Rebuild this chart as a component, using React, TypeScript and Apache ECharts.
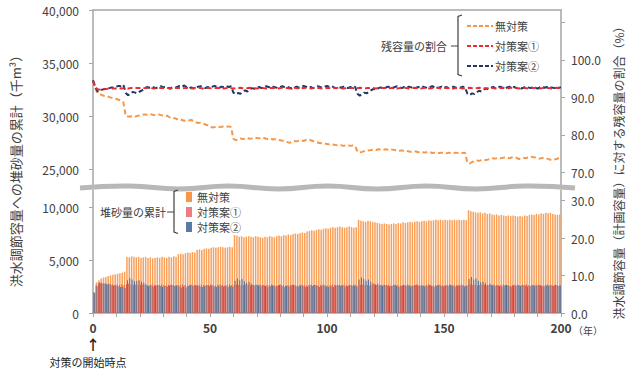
import React, { useEffect, useRef } from "react";
import * as echarts from "echarts";

// ---- categories / tick labels ----
const barYears = Array.from({ length: 200 }, (_, i) => String(i + 1));
const leftTopTicks = [25000, 30000, 35000, 40000];
const leftBottomTicks = [0, 5000, 10000];
const rightTopTicks = [70, 80, 90, 100, 110];
const rightTopLabels = [70, 80, 90, 100];
const rightBottomTicks = [0, 10, 20, 30];

// ---- 残容量の割合 (%) : years 0..200 ----
const lineNoMeasure = [
  94.5, 92.3, 91.2, 90.9, 90.6, 90.4, 90.3, 90.1, 89.9, 89.8,
  89.6, 89.4, 89.1, 88.7, 85.1, 84.9, 85.0, 84.8, 84.9, 85.1,
  85.2, 85.4, 85.5, 85.4, 85.6, 85.5, 85.3, 85.4, 85.5, 85.3,
  85.2, 85.3, 85.0, 84.6, 84.4, 84.5, 84.2, 84.3, 84.0, 83.8,
  84.0, 83.9, 84.0, 83.7, 83.4, 83.2, 83.3, 83.1, 82.8, 82.6,
  82.3, 82.0, 82.1, 82.2, 82.1, 82.2, 82.3, 82.2, 82.3, 82.1,
  79.0, 78.6, 78.8, 79.1, 78.9, 79.0, 79.2, 79.0, 79.1, 79.3,
  79.2, 79.1, 79.3, 79.2, 79.0, 78.9, 79.0, 78.8, 78.9, 78.7,
  78.6, 78.5, 78.3, 78.1, 77.9, 78.2, 78.4, 78.3, 78.5, 78.6,
  78.4, 78.7, 78.8, 78.6, 78.4, 78.2, 78.0, 77.8, 77.9, 77.7,
  77.6, 77.5, 77.6, 77.4, 77.3, 77.2, 77.3, 77.1, 77.2, 77.3,
  77.1, 77.2, 77.1, 75.6, 75.3, 75.5, 75.7, 75.8, 75.9, 76.0,
  76.1, 76.0, 76.2, 76.1, 76.0, 76.2, 76.1, 76.3, 76.1, 76.0,
  75.9, 75.8, 75.9, 75.7, 75.8, 75.6, 75.5, 75.7, 75.6, 75.4,
  75.5, 75.4, 75.3, 75.5, 75.4, 75.2, 75.3, 75.1, 75.2, 75.3,
  75.2, 75.1, 75.3, 75.2, 75.1, 75.3, 75.2, 75.1, 75.2, 75.3,
  72.6, 72.4, 72.8, 73.0, 73.2, 73.1, 73.3, 73.4, 73.3, 73.5,
  73.6, 73.8, 73.7, 73.9, 73.8, 73.9, 74.0, 73.9, 73.8, 74.0,
  74.1, 73.9, 73.6, 73.7, 73.9, 73.8, 74.0, 74.2, 74.1, 74.0,
  73.8, 73.7, 73.9, 73.8, 73.7, 73.5, 73.3, 73.4, 73.6, 73.8,
  73.9,
];
const linePlan1 = [
  94.4, 92.6, 92.2, 92.1, 92.2, 92.2, 92.3, 92.3, 92.4, 92.4,
  92.4, 92.5, 92.4, 92.5, 92.5, 92.4, 92.5, 92.5, 92.6, 92.5,
  92.5, 92.6, 92.5, 92.5, 92.6, 92.5, 92.4, 92.5, 92.6, 92.5,
  92.5, 92.6, 92.5, 92.4, 92.5, 92.6, 92.5, 92.5, 92.4, 92.5,
  92.6, 92.5, 92.4, 92.5, 92.6, 92.5, 92.5, 92.4, 92.5, 92.6,
  92.5, 92.4, 92.5, 92.6, 92.5, 92.5, 92.4, 92.5, 92.6, 92.5,
  92.4, 92.5, 92.5, 92.6, 92.5, 92.4, 92.5, 92.6, 92.5, 92.5,
  92.4, 92.5, 92.6, 92.5, 92.4, 92.5, 92.5, 92.6, 92.5, 92.4,
  92.5, 92.6, 92.5, 92.5, 92.4, 92.5, 92.6, 92.5, 92.4, 92.5,
  92.5, 92.6, 92.5, 92.4, 92.5, 92.6, 92.5, 92.5, 92.4, 92.5,
  92.6, 92.5, 92.4, 92.5, 92.5, 92.6, 92.5, 92.4, 92.5, 92.6,
  92.5, 92.5, 92.4, 92.5, 92.6, 92.5, 92.4, 92.5, 92.5, 92.6,
  92.5, 92.4, 92.5, 92.6, 92.5, 92.5, 92.4, 92.5, 92.6, 92.5,
  92.4, 92.5, 92.5, 92.6, 92.5, 92.4, 92.5, 92.6, 92.5, 92.5,
  92.4, 92.5, 92.6, 92.5, 92.4, 92.5, 92.5, 92.6, 92.5, 92.4,
  92.5, 92.6, 92.5, 92.5, 92.4, 92.5, 92.6, 92.5, 92.4, 92.5,
  92.5, 92.6, 92.5, 92.4, 92.5, 92.6, 92.5, 92.5, 92.4, 92.5,
  92.6, 92.5, 92.4, 92.5, 92.5, 92.6, 92.5, 92.4, 92.5, 92.6,
  92.5, 92.5, 92.4, 92.5, 92.6, 92.5, 92.4, 92.5, 92.5, 92.6,
  92.5, 92.4, 92.5, 92.6, 92.5, 92.5, 92.4, 92.5, 92.6, 92.5,
  92.4,
];
const linePlan2 = [
  94.6, 92.9, 91.6, 91.9, 92.1, 92.3, 92.2, 92.5, 92.7, 92.6,
  92.9, 93.1, 93.0, 93.4, 91.2, 90.6, 91.0, 91.5, 91.3, 91.1,
  91.6, 91.9, 92.4, 92.8, 92.6, 92.9, 92.7, 92.5, 92.8, 93.0,
  92.7, 92.9, 92.6, 92.4, 92.7, 92.5, 92.8, 93.1, 92.9, 93.2,
  92.8, 92.5, 92.7, 92.4, 92.6, 92.9, 93.0, 92.7, 92.5, 92.8,
  92.6, 92.9, 93.1, 92.8, 92.6, 92.9, 92.7, 93.0, 92.8, 93.0,
  91.3, 90.8, 91.2, 91.0, 91.5, 91.9, 91.6, 92.2, 92.5, 92.3,
  92.6, 92.8, 92.5, 92.7, 93.0, 92.8, 92.6, 92.9, 92.7, 92.5,
  92.8, 93.0, 92.7, 92.9, 92.6, 92.4, 92.7, 92.9, 92.6, 92.8,
  93.1, 92.9, 92.6, 92.8, 92.5, 92.7, 93.0, 92.8, 92.6, 92.9,
  93.1, 92.8, 93.0, 92.7, 92.5, 92.8, 92.6, 92.9, 92.7, 92.5,
  92.8, 92.6, 92.9, 91.0, 90.5, 90.9, 91.3, 91.1, 91.6, 92.0,
  92.3, 92.1, 92.5, 92.7, 92.4, 92.6, 92.9, 92.7, 92.5, 92.8,
  93.0, 92.7, 92.5, 92.8, 92.6, 92.9, 92.7, 92.4, 92.6, 92.8,
  92.6, 92.9, 92.7, 92.5, 92.8, 93.0, 92.7, 92.5, 92.7, 92.9,
  92.6, 92.8, 92.5, 92.7, 92.9, 92.6, 92.8, 92.6, 92.9, 92.7,
  91.0, 90.6, 91.1, 90.9, 91.4, 91.8, 91.6, 92.1, 92.4, 92.2,
  92.6, 92.8, 92.5, 92.7, 92.9, 92.6, 92.4, 92.7, 92.9, 92.6,
  92.8, 92.5, 92.7, 92.4, 92.6, 92.9, 92.7, 92.5, 92.8, 92.6,
  92.4, 92.7, 92.9, 92.6, 92.8, 92.5, 92.7, 92.5, 92.8, 92.6,
  92.7,
];

// ---- 堆砂量の累計 (千m3) : years 1..200 ----
const barNoMeasure = [
  1900, 2900, 3100, 3250, 3350, 3400, 3500, 3550, 3600, 3650,
  3700, 3750, 3800, 3900, 5300, 5250, 5350, 5300, 5250, 5300,
  5200, 5250, 5300, 5200, 5250, 5150, 5200, 5250, 5200, 5300,
  5250, 5200, 5300, 5250, 5350, 5300, 5550, 5600, 5550, 5650,
  5700, 5650, 5750, 5700, 5950, 6000, 5950, 6050, 6100, 6050,
  6150, 6200, 6150, 6200, 6250, 6200, 6150, 6200, 6250, 6200,
  7350, 7300, 7200, 7250, 7150, 7200, 7250, 7200, 7150, 7250,
  7200, 7150, 7100, 7200, 7150, 7250, 7200, 7150, 7250, 7300,
  7250, 7350, 7300, 7400, 7350, 7450, 7500, 7450, 7550, 7600,
  7550, 7700, 7750, 7800, 7750, 7850, 7900, 7850, 7950, 8000,
  7950, 8050, 8100, 8050, 8100, 8150, 8100, 8050, 8100, 8150,
  8100, 8050, 8100, 8800, 8700, 8650, 8600, 8700, 8650, 8600,
  8550, 8500, 8450, 8400, 8450, 8400, 8350, 8400, 8450, 8400,
  8500, 8450, 8550, 8500, 8550, 8600, 8550, 8600, 8650, 8600,
  8650, 8700, 8650, 8750, 8700, 8750, 8800, 8750, 8800, 8750,
  8800, 8750, 8800, 8750, 8800, 8750, 8800, 8750, 8800, 8750,
  9700, 9600, 9550, 9500, 9450, 9500, 9400, 9450, 9350, 9400,
  9300, 9250, 9300, 9200, 9250, 9200, 9150, 9200, 9150, 9200,
  9150, 9100, 9150, 9100, 9200, 9150, 9250, 9300, 9250, 9350,
  9300, 9400, 9350, 9450, 9400, 9450, 9350, 9300, 9250, 9300,
];
const barPlan1 = [
  1950, 2600, 2750, 2800, 2750, 2750, 2700, 2750, 2700, 2650,
  2700, 2650, 2700, 2650, 2700, 2750, 2700, 2650, 2700, 2650,
  2650, 2700, 2650, 2600, 2650, 2700, 2650, 2600, 2650, 2700,
  2650, 2600, 2650, 2700, 2650, 2600, 2650, 2650, 2700, 2650,
  2600, 2650, 2700, 2650, 2600, 2650, 2700, 2650, 2600, 2650,
  2700, 2650, 2600, 2650, 2700, 2650, 2600, 2650, 2700, 2650,
  2650, 2700, 2650, 2600, 2650, 2700, 2650, 2600, 2650, 2600,
  2650, 2700, 2650, 2600, 2650, 2650, 2700, 2650, 2600, 2650,
  2700, 2650, 2600, 2650, 2650, 2700, 2650, 2600, 2650, 2700,
  2650, 2600, 2650, 2700, 2650, 2650, 2600, 2650, 2700, 2650,
  2600, 2650, 2700, 2650, 2600, 2650, 2650, 2700, 2650, 2600,
  2650, 2700, 2650, 2600, 2650, 2700, 2650, 2650, 2600, 2650,
  2700, 2650, 2600, 2650, 2700, 2650, 2650, 2600, 2650, 2700,
  2650, 2600, 2650, 2650, 2700, 2650, 2600, 2650, 2700, 2650,
  2650, 2600, 2650, 2700, 2650, 2600, 2650, 2650, 2700, 2650,
  2600, 2650, 2700, 2650, 2650, 2600, 2650, 2700, 2650, 2600,
  2650, 2700, 2650, 2650, 2600, 2650, 2700, 2650, 2600, 2650,
  2650, 2700, 2650, 2600, 2650, 2700, 2650, 2650, 2600, 2650,
  2700, 2650, 2600, 2650, 2650, 2700, 2650, 2600, 2650, 2700,
  2650, 2650, 2600, 2650, 2700, 2650, 2600, 2650, 2650, 2600,
];
const barPlan2 = [
  1900, 2550, 2900, 2850, 2800, 2750, 2750, 2650, 2600, 2600,
  2500, 2450, 2450, 2350, 3100, 3300, 3150, 3000, 3050, 3100,
  2950, 2850, 2700, 2550, 2600, 2500, 2600, 2650, 2550, 2450,
  2550, 2500, 2600, 2650, 2550, 2600, 2500, 2400, 2500, 2400,
  2550, 2650, 2550, 2650, 2600, 2500, 2450, 2550, 2650, 2550,
  2600, 2500, 2450, 2550, 2600, 2500, 2550, 2450, 2550, 2450,
  3050, 3250, 3100, 3200, 3000, 2850, 2950, 2750, 2650, 2700,
  2600, 2550, 2650, 2550, 2450, 2550, 2600, 2500, 2550, 2650,
  2550, 2450, 2550, 2500, 2600, 2650, 2550, 2500, 2600, 2550,
  2450, 2500, 2600, 2550, 2650, 2600, 2450, 2550, 2600, 2500,
  2450, 2550, 2450, 2600, 2650, 2550, 2600, 2500, 2550, 2650,
  2550, 2600, 2500, 3150, 3350, 3200, 3050, 3150, 2950, 2800,
  2700, 2750, 2650, 2550, 2650, 2600, 2500, 2550, 2650, 2550,
  2450, 2550, 2650, 2550, 2600, 2500, 2550, 2650, 2600, 2550,
  2600, 2500, 2550, 2650, 2550, 2450, 2550, 2650, 2550, 2500,
  2600, 2550, 2650, 2550, 2500, 2600, 2550, 2600, 2500, 2550,
  3200, 3400, 3150, 3250, 3050, 2900, 2950, 2800, 2650, 2750,
  2600, 2550, 2650, 2550, 2500, 2600, 2650, 2550, 2500, 2600,
  2550, 2650, 2550, 2650, 2600, 2500, 2550, 2650, 2550, 2600,
  2650, 2550, 2500, 2600, 2550, 2650, 2550, 2650, 2550, 2600,
];

const FONT = "'Noto Sans CJK JP', 'Noto Sans', sans-serif";
const TXT = "#404040";
const AXIS = "#A6A6A6";
const C_ORANGE = "#F79646";
const C_RED = "#EE2A30";
const C_NAVY = "#1F3864";
const B_ORANGE = "#F8A05A";
const B_PINK = "#E0584F";
const B_BLUE = "#58709A";

const pairs = (arr: number[]) => arr.map((v, i) => [i, v]);
const fmtThousands = (v: number) => v.toLocaleString("en-US");

function buildOption(): any {
  const axisLine = { show: true, lineStyle: { color: AXIS, width: 1.5 } };
  const tickStyle = { lineStyle: { color: AXIS, width: 1 } };
  const yLabel = { color: TXT, fontFamily: FONT, fontSize: 12 };
  const waveY = [188, 186, 189, 186, 189, 186, 189, 186, 189, 186, 188];
  const wavePts = waveY.map((y, i) => [80 + i * 49.5, y]);

  return {
    animation: false,
    backgroundColor: "#ffffff",
    textStyle: { fontFamily: FONT },
    grid: [
      { left: 93, right: 79, top: 10, height: 177 },
      { left: 93, right: 79, top: 190, height: 123 },
    ],
    xAxis: [
      {
        gridIndex: 0, type: "value", min: 0, max: 200, position: "top",
        axisLine, axisTick: { show: false }, axisLabel: { show: false }, splitLine: { show: false },
      },
      {
        gridIndex: 1, type: "value", min: 0, max: 200, interval: 10, position: "bottom",
        axisLine,
        axisTick: { show: true, length: 4, ...tickStyle },
        axisLabel: {
          color: TXT, fontFamily: FONT, fontSize: 12, fontWeight: "bold", margin: 8,
          formatter: (v: number) => (v % 50 === 0 ? String(v) : ""),
        },
        splitLine: { show: false },
      },
      { gridIndex: 1, type: "category", data: barYears, show: false, boundaryGap: true },
      { gridIndex: 1, type: "category", data: barYears, show: false, boundaryGap: true },
    ],
    yAxis: [
      {
        gridIndex: 0, type: "value", min: 23302, max: 40000, position: "left",
        axisLine,
        axisTick: { show: true, length: 4, customValues: leftTopTicks, ...tickStyle },
        axisLabel: { ...yLabel, margin: 14, customValues: leftTopTicks, formatter: fmtThousands },
        splitLine: { show: false },
      },
      {
        gridIndex: 0, type: "value", min: 66.13, max: 113.33, position: "right",
        axisLine,
        axisTick: { show: true, length: 4, customValues: rightTopTicks, ...tickStyle },
        axisLabel: { ...yLabel, margin: 10, customValues: rightTopLabels, formatter: (v: number) => v.toFixed(1) },
        splitLine: { show: false },
      },
      {
        gridIndex: 1, type: "value", min: 0, max: 11604, position: "left",
        axisLine,
        axisTick: { show: true, length: 4, customValues: leftBottomTicks, ...tickStyle },
        axisLabel: { ...yLabel, margin: 14, customValues: leftBottomTicks, formatter: fmtThousands },
        splitLine: { show: false },
      },
      {
        gridIndex: 1, type: "value", min: 0, max: 32.8, position: "right",
        axisLine,
        axisTick: { show: true, length: 4, customValues: rightBottomTicks, ...tickStyle },
        axisLabel: { ...yLabel, margin: 10, customValues: rightBottomTicks, formatter: (v: number) => v.toFixed(1) },
        splitLine: { show: false },
      },
    ],
    series: [
      {
        name: "堆砂量 無対策", type: "bar", xAxisIndex: 2, yAxisIndex: 2, data: barNoMeasure,
        barWidth: 1.5, itemStyle: { color: B_ORANGE }, z: 1,
      },
      {
        name: "堆砂量 対策案①", type: "bar", xAxisIndex: 3, yAxisIndex: 2, data: barPlan1,
        barWidth: 1, barGap: "0%", itemStyle: { color: B_PINK }, z: 2,
      },
      {
        name: "堆砂量 対策案②", type: "bar", xAxisIndex: 3, yAxisIndex: 2, data: barPlan2,
        barWidth: 1, barGap: "0%", itemStyle: { color: B_BLUE }, z: 2,
      },
      {
        name: "残容量 無対策", type: "line", xAxisIndex: 0, yAxisIndex: 1, data: pairs(lineNoMeasure),
        symbol: "none", lineStyle: { color: C_ORANGE, width: 2, type: [5, 3] }, z: 3,
      },
      {
        name: "残容量 対策案②", type: "line", xAxisIndex: 0, yAxisIndex: 1, data: pairs(linePlan2),
        symbol: "none", lineStyle: { color: C_NAVY, width: 2, type: [5, 3] }, z: 3,
      },
      {
        name: "残容量 対策案①", type: "line", xAxisIndex: 0, yAxisIndex: 1, data: pairs(linePlan1),
        symbol: "none", lineStyle: { color: C_RED, width: 2, type: [5, 3] }, z: 4,
      },
    ],
    graphic: [
      // break band
      {
        type: "polyline", shape: { points: wavePts, smooth: 0.5 }, z: 50,
        style: { stroke: "#B8B8B8", lineWidth: 5, fill: null },
      },
      // axis titles
      {
        type: "text", x: 15, y: 168, rotation: Math.PI / 2, z: 50,
        style: {
          text: "洪水調節容量への堆砂量の累計（千m³）", fill: TXT, font: `13px ${FONT}`,
          textAlign: "center", textVerticalAlign: "middle",
        },
      },
      {
        type: "text", x: 618, y: 170, rotation: Math.PI / 2, z: 50,
        style: {
          text: "洪水調節容量（計画容量）に対する残容量の割合（%）", fill: TXT, font: `12px ${FONT}`,
          textAlign: "center", textVerticalAlign: "middle",
        },
      },
      { type: "text", x: 573, y: 330, z: 50, style: { text: "（年）", fill: TXT, font: `10px ${FONT}`, textVerticalAlign: "middle" } },
      { type: "text", x: 93, y: 344, z: 50, style: { text: "↑", fill: "#222", font: `bold 14px ${FONT}`, textAlign: "center", textVerticalAlign: "middle" } },
      { type: "text", x: 88, y: 362, z: 50, style: { text: "対策の開始時点", fill: "#222", font: `11px ${FONT}`, textAlign: "center", textVerticalAlign: "middle" } },
      // top legend (残容量の割合)
      { type: "text", x: 447, y: 46, z: 50, style: { text: "残容量の割合", fill: TXT, font: `11px ${FONT}`, textAlign: "right", textVerticalAlign: "middle" } },
      { type: "line", z: 50, shape: { x1: 451, y1: 46, x2: 458, y2: 46 }, style: { stroke: TXT, lineWidth: 1 } },
      { type: "polyline", z: 50, shape: { points: [[462, 15], [458, 16.5], [458, 74.5], [462, 76]] }, style: { stroke: TXT, lineWidth: 1.2, fill: null } },
      { type: "line", z: 50, shape: { x1: 467, y1: 26, x2: 493, y2: 26 }, style: { stroke: C_ORANGE, lineWidth: 2, lineDash: [4, 2] } },
      { type: "line", z: 50, shape: { x1: 467, y1: 46, x2: 493, y2: 46 }, style: { stroke: C_RED, lineWidth: 2, lineDash: [4, 2] } },
      { type: "line", z: 50, shape: { x1: 467, y1: 66, x2: 493, y2: 66 }, style: { stroke: C_NAVY, lineWidth: 2, lineDash: [4, 2] } },
      { type: "text", x: 495, y: 26, z: 50, style: { text: "無対策", fill: TXT, font: `11px ${FONT}`, textVerticalAlign: "middle" } },
      { type: "text", x: 495, y: 46, z: 50, style: { text: "対策案①", fill: TXT, font: `11px ${FONT}`, textVerticalAlign: "middle" } },
      { type: "text", x: 495, y: 66, z: 50, style: { text: "対策案②", fill: TXT, font: `11px ${FONT}`, textVerticalAlign: "middle" } },
      // bottom legend (堆砂量の累計)
      { type: "text", x: 166, y: 212, z: 50, style: { text: "堆砂量の累計", fill: TXT, font: `11px ${FONT}`, textAlign: "right", textVerticalAlign: "middle" } },
      { type: "line", z: 50, shape: { x1: 167, y1: 212, x2: 174, y2: 212 }, style: { stroke: TXT, lineWidth: 1 } },
      { type: "polyline", z: 50, shape: { points: [[178, 190], [174, 191.5], [174, 232], [178, 233.5]] }, style: { stroke: TXT, lineWidth: 1.2, fill: null } },
      { type: "rect", z: 50, shape: { x: 186, y: 192, width: 6, height: 10 }, style: { fill: C_ORANGE } },
      { type: "rect", z: 50, shape: { x: 186, y: 207, width: 6, height: 10 }, style: { fill: "#EF7B84" } },
      { type: "rect", z: 50, shape: { x: 186, y: 222, width: 6, height: 10 }, style: { fill: "#5B7BA6" } },
      { type: "text", x: 197, y: 197, z: 50, style: { text: "無対策", fill: TXT, font: `11px ${FONT}`, textVerticalAlign: "middle" } },
      { type: "text", x: 197, y: 212, z: 50, style: { text: "対策案①", fill: TXT, font: `11px ${FONT}`, textVerticalAlign: "middle" } },
      { type: "text", x: 197, y: 227, z: 50, style: { text: "対策案②", fill: TXT, font: `11px ${FONT}`, textVerticalAlign: "middle" } },
    ],
  };
}

export default function App() {
  const ref = useRef<HTMLDivElement>(null);
  useEffect(() => {
    if (!ref.current) return;
    const chart = echarts.init(ref.current, null, { renderer: "svg" });
    chart.setOption(buildOption());
    return () => chart.dispose();
  }, []);
  return (
    <div
      ref={ref}
      style={{ position: "fixed", left: 0, top: 0, width: 640, height: 372, background: "#fff" }}
    />
  );
}
